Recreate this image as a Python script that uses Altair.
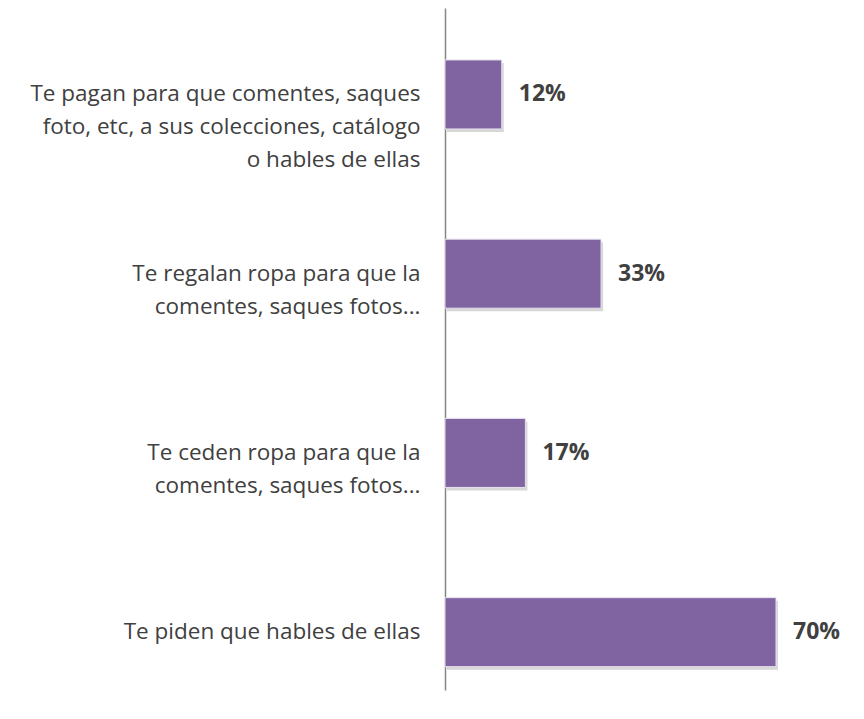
import altair as alt
import pandas as pd

category_lines = [
    ["Te pagan para que comentes, saques", "foto, etc, a sus colecciones, catálogo", "o hables de ellas"],
    ["Te regalan ropa para que la", "comentes, saques fotos..."],
    ["Te ceden ropa para que la", "comentes, saques fotos..."],
    ["Te piden que hables de ellas"],
]
values = [0.12, 0.33, 0.17, 0.70]
value_labels = ["12%", "33%", "17%", "70%"]

categories = ["|".join(c) for c in category_lines]
df = pd.DataFrame({"cat": categories, "val": values, "lab": value_labels})

y_enc = alt.Y(
    "cat:N",
    sort=None,
    title=None,
    scale=alt.Scale(paddingInner=0.615, paddingOuter=0.21, align=0.69),
    axis=alt.Axis(
        labelExpr="split(datum.label, '|')",
        labelFont="Open Sans",
        labelFontSize=22.5,
        labelLineHeight=33,
        labelColor="#404040",
        labelPadding=25,
        labelLimit=0,
        labelAlign="right",
        labelBaseline="middle",
        ticks=False,
        domainColor="#868686",
        domainWidth=1.5,
        grid=False,
    ),
)
x_enc = alt.X("val:Q", scale=alt.Scale(domain=[0, 0.7], nice=False, zero=True), axis=None)

base = alt.Chart(df)

shadow = base.mark_bar(color="#9a9a9a", opacity=0.4, xOffset=2, yOffset=3).encode(x=x_enc, y=y_enc)
bars = base.mark_bar(color="#8064A2", stroke="#e6e0ee", strokeWidth=1).encode(x=x_enc, y=y_enc)
text = base.mark_text(
    align="left", baseline="middle", dx=17, font="Open Sans", fontSize=23,
    fontWeight="bold", color="#404040"
).encode(x=x_enc, y=y_enc, text="lab:N")

chart = (
    alt.layer(shadow, bars, text)
    .properties(
        width=331,
        height=682,
        background="white",
        autosize=alt.AutoSizeParams(type="none"),
        padding={"left": 437, "top": 0, "right": 72, "bottom": 10},
    )
    .configure_view(strokeWidth=0, stroke="transparent")
)

chart.save("out.html", embed_options={"renderer": "svg", "actions": False})
